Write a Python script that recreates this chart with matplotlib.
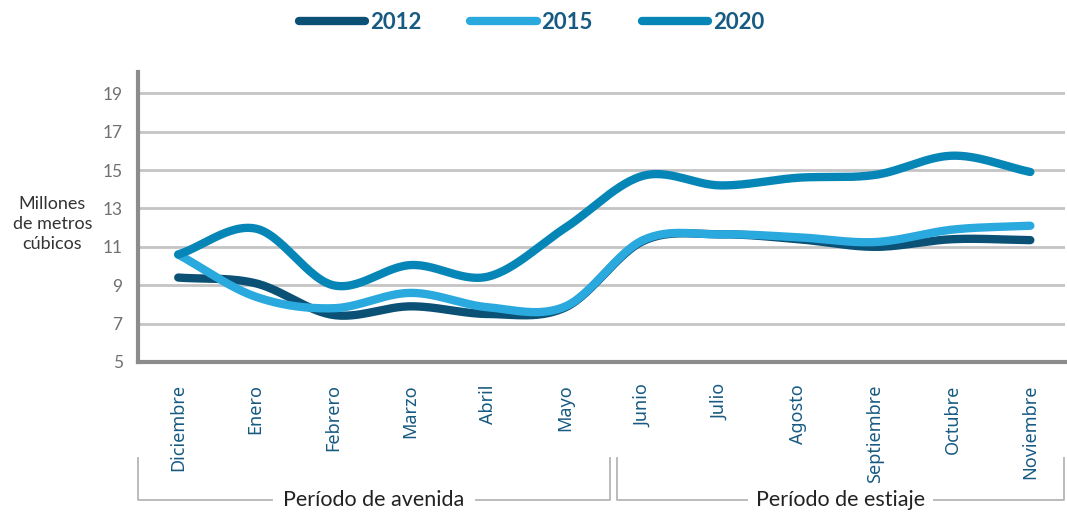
import matplotlib
matplotlib.use("Agg")
import matplotlib.pyplot as plt
import numpy as np

plt.rcParams['font.family'] = ['Lato', 'DejaVu Sans']

meses = ['Diciembre', 'Enero', 'Febrero', 'Marzo', 'Abril', 'Mayo',
         'Junio', 'Julio', 'Agosto', 'Septiembre', 'Octubre', 'Noviembre']
v2012 = [9.4, 9.1, 7.45, 7.9, 7.5, 7.85, 11.3, 11.65, 11.4, 11.0, 11.4, 11.35]
v2015 = [10.6, 8.4, 7.8, 8.6, 7.85, 7.9, 11.35, 11.65, 11.5, 11.25, 11.9, 12.1]
v2020 = [10.6, 11.95, 9.0, 10.05, 9.45, 12.0, 14.7, 14.2, 14.6, 14.75, 15.75, 14.9]
yticks = [5, 7, 9, 11, 13, 15, 17, 19]

c2012 = '#0b5075'
c2015 = '#2aa9df'
c2020 = '#0686b6'
ctxt = '#175a82'


def suave(y, n=30):
    # catmull-rom, solo para dibujar la curva suavizada
    y = np.asarray(y, float)
    x = np.arange(len(y), dtype=float)
    p = np.concatenate([[2 * y[0] - y[1]], y, [2 * y[-1] - y[-2]]])
    xs, ys = [], []
    for i in range(len(y) - 1):
        p0, p1, p2, p3 = p[i], p[i + 1], p[i + 2], p[i + 3]
        t = np.linspace(0, 1, n, endpoint=False)
        yy = 0.5 * (2 * p1 + (-p0 + p2) * t + (2 * p0 - 5 * p1 + 4 * p2 - p3) * t ** 2
                    + (-p0 + 3 * p1 - 3 * p2 + p3) * t ** 3)
        xs.append(x[i] + t)
        ys.append(yy)
    xs.append([x[-1]])
    ys.append([y[-1]])
    return np.concatenate(xs), np.concatenate(ys)


fig = plt.figure(figsize=(10.67, 5.12), dpi=100)
ax = fig.add_axes([0.1293, 0.293, 0.869, 0.566])

for v in yticks[1:]:
    ax.axhline(v, color='#c4c4c4', lw=2, zorder=1)

for vals, c, lab in [(v2012, c2012, '2012'), (v2015, c2015, '2015'), (v2020, c2020, '2020')]:
    xs, ys = suave(vals)
    ax.plot(xs, ys, color=c, lw=6, solid_capstyle='round', label=lab, zorder=3)

ax.set_xlim(-0.52, 11.45)
ax.set_ylim(5, 20.1)
ax.set_yticks(yticks)
ax.set_yticklabels([str(t) for t in yticks], color='#707070', fontsize=12.5)
ax.set_xticks(range(len(meses)))
ax.set_xticklabels(meses, rotation=90, color=ctxt, fontsize=13, va='top',
                   family=['Noto Sans', 'DejaVu Sans'])
ax.tick_params(length=0)
ax.tick_params(axis='y', pad=11)
ax.tick_params(axis='x', pad=16)
for s in ['top', 'right']:
    ax.spines[s].set_visible(False)
for s in ['left', 'bottom']:
    ax.spines[s].set_color('#8c8c8c')
    ax.spines[s].set_linewidth(3)

fig.text(0.049, 0.562, 'Millones\nde metros\ncúbicos', ha='center', va='center',
         fontsize=13, color='#333333', linespacing=1.3)

leg = fig.legend(loc='center', bbox_to_anchor=(0.498, 0.957), ncol=3, frameon=False,
                 handlelength=3.0, columnspacing=2.2, handletextpad=0.2,
                 prop={'size': 16, 'weight': 'bold'})
for t in leg.get_texts():
    t.set_color(ctxt)

# llaves de periodos
gris = '#b5b5b5'
def periodo(x0, x1, texto):
    xm = (x0 + x1) / 2
    y0, y1 = 1 - 458 / 512, 1 - 500 / 512
    w = 0.0955 if 'avenida' in texto else 0.088
    fig.add_artist(plt.Line2D([x0, x0, xm - w], [y0, y1, y1], color=gris, lw=1.3))
    fig.add_artist(plt.Line2D([xm + w, x1, x1], [y1, y1, y0], color=gris, lw=1.3))
    fig.text(xm, y1, texto, ha='center', va='center', fontsize=15.5, color='#222222')

periodo(138 / 1067, 610 / 1067, 'Período de avenida')
periodo(617 / 1067, 1064 / 1067, 'Período de estiaje')

fig.savefig('out.png', dpi=100)
